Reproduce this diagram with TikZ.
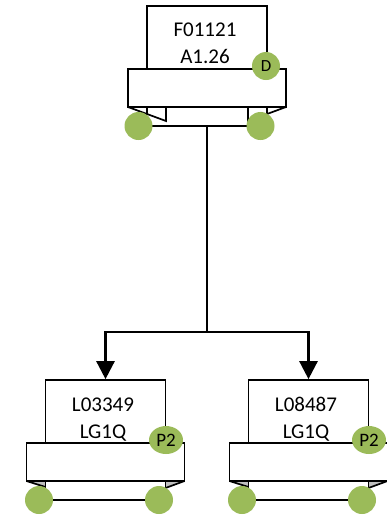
\documentclass[tikz,border=0pt]{standalone}
\usepackage{fontspec}
\setmainfont{Carlito}
\usetikzlibrary{arrows.meta,calc,shapes.geometric}
\definecolor{pingreen}{HTML}{9BBB59}
\definecolor{tabgrey}{HTML}{BFBFBF}
\tikzset{
  x=1pt,y=-1pt,
  wire/.style={line width=1.7pt,line cap=butt,line join=miter,black},
  unitbox/.style={draw=black,line width=1.7pt,fill=white,minimum width=120pt,minimum height=63pt,inner sep=0pt},
  unitlabel/.style={inner sep=0pt,align=center,font=\fontsize{21}{27}\selectfont},
  barbox/.style={draw=black,line width=1.7pt,fill=white,minimum width=158pt,minimum height=38pt,inner sep=0pt},
  pin/.style={circle,fill=pingreen,draw=none,minimum size=28pt,inner sep=0pt,font=\fontsize{17}{17}\selectfont},
  pinwide/.style={ellipse,fill=pingreen,draw=none,minimum width=34pt,minimum height=28pt,inner sep=0pt,font=\fontsize{19}{19}\selectfont},
  arrowwire/.style={line width=2.6pt,black,-{Triangle[length=18pt,width=18pt]}},
  stemwire/.style={line width=2.6pt,black},
}
\begin{document}
\begin{tikzpicture}
\useasboundingbox (0,0) rectangle (387,515);
\clip (0,0) rectangle (387,515);
\path (138.5,126) coordinate (tlc) (260.5,126) coordinate (trc) (39,500) coordinate (llc)
      (159,500) coordinate (lrc) (242,500) coordinate (rlc) (362,500) coordinate (rrc);
% top unit
\node[unitbox] (top) at (207,37.5) {};
\node[unitlabel] (toplabel) at (205,43.5) {F01121\\A1.26};
\draw[wire] (147,107) -- (147,115);
\draw[wire] (267,107) -- (267,114);
\draw[wire] (248,107) -- (248,126);
\draw[wire] (128,107) -- (166,121) -- (166,107);
\draw[wire] (286,107) -- (267,114);
\draw[wire] (tlc) -- (trc);
\node[barbox] (topbar) at (207,88) {};
\coordinate (stemtop) at (207,126);
\coordinate (junction) at (207,332);
% left child
\node[unitbox] (lc) at (105.5,411.5) {};
\node[unitlabel] (lclabel) at (103,419.5) {L03349\\LG1Q};
\fill[tabgrey] (26.5,481) -- (45.5,487) -- (45.5,481) -- cycle;
\fill[tabgrey] (184.5,481) -- (165.5,488) -- (165.5,481) -- cycle;
\draw[wire] (45.5,481) -- (45.5,490);
\draw[wire] (165.5,481) -- (165.5,490);
\draw[wire] (26.5,481) -- (45.5,487);
\draw[wire] (184.5,481) -- (165.5,488);
\draw[wire] (llc) -- (lrc);
\node[barbox] (lcbar) at (105.5,462) {};
% right child
\node[unitbox] (rc) at (308.5,411.5) {};
\node[unitlabel] (rclabel) at (306,419.5) {L08487\\LG1Q};
\fill[tabgrey] (229.5,481) -- (248.5,487) -- (248.5,481) -- cycle;
\fill[tabgrey] (387.5,481) -- (368.5,488) -- (368.5,481) -- cycle;
\draw[wire] (248.5,481) -- (248.5,490);
\draw[wire] (368.5,481) -- (368.5,490);
\draw[wire] (229.5,481) -- (248.5,487);
\draw[wire] (387.5,481) -- (368.5,488);
\draw[wire] (rlc) -- (rrc);
\node[barbox] (rcbar) at (308.5,462) {};
% pins
\node[pin] (tl) at (tlc) {};
\node[pin] (tr) at (trc) {};
\node[pin] (td) at (266,66) {D};
\node[pin] (ll) at (llc) {};
\node[pin] (lr) at (lrc) {};
\node[pinwide] (lp) at (166,440) {P2};
\node[pin] (rl) at (rlc) {};
\node[pin] (rr) at (rrc) {};
\node[pinwide] (rp) at (369,440) {P2};
% wires
\draw[stemwire] (stemtop) -- (junction);
\draw[arrowwire] (junction) -| (lc.north);
\draw[arrowwire] (junction) -| (rc.north);
\end{tikzpicture}
\end{document}
